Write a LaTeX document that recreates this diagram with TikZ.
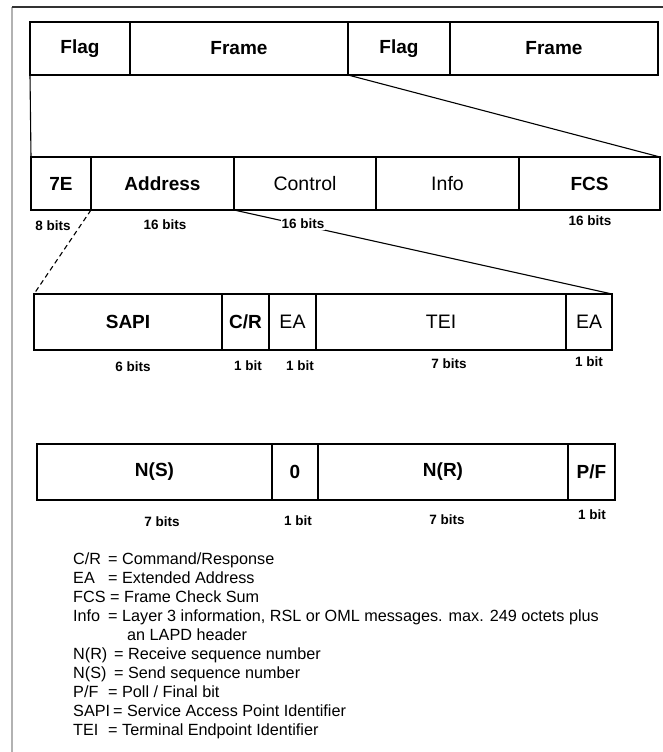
\documentclass[tikz,border=0pt]{standalone}
\usepackage{fontspec}
\setmainfont{Liberation Sans}
\newcommand\fieldbox[7][]{%
  \node[fld,#1,minimum width=\dimexpr #4pt-#3pt\relax,minimum height=\dimexpr #6pt-#5pt\relax] (#2) at (#3,#5) {#7};}
\tikzset{
  fld/.style={draw, line width=1.15pt, anchor=north west, inner sep=0pt, outer sep=0pt,
    font=\fontsize{19}{21}\selectfont\bfseries},
  thin/.style={font=\fontsize{19.5}{21}\selectfont},
  bitlbl/.style={font=\fontsize{13.5}{15}\selectfont\bfseries, inner sep=1pt},
  leg/.style={anchor=base west, inner sep=0pt, font=\fontsize{16.2}{18}\selectfont},
  conn/.style={line width=1.1pt},
}
\begin{document}
\begin{tikzpicture}[x=1pt,y=-1pt]
\useasboundingbox (0,0) rectangle (663,752);
% outer frame
\coordinate (fa) at (12,752);
\coordinate (fb) at (12,7);
\coordinate (fc) at (663,7);
\draw[gray!60, line width=1.3pt] (fa) -- (fb);
\draw[black!80, line width=1.1pt] (fb) -- (fc);
% row 1
\fieldbox{flagA}{30}{130}{22}{75}{Flag}
\fieldbox{frameA}{130}{348}{22}{75}{Frame}
\fieldbox{flagB}{348}{450}{22}{75}{Flag}
\fieldbox{frameB}{450}{658}{22}{75}{Frame}
% row 3
\fieldbox{f7E}{31}{91}{157}{210}{7E}
\fieldbox{addr}{91}{234}{157}{210}{Address}
\fieldbox[thin]{ctrl}{234}{376}{157}{210}{Control}
\fieldbox[thin]{info}{376}{519}{157}{210}{Info}
\fieldbox{fcs}{519}{660}{157}{210}{FCS}
% blank zone left side
\draw[conn] (flagA.south west) -- (f7E.north west);
% expansion lines
\draw[conn] (flagB.south west) -- (fcs.north east);
\node[bitlbl] (b8) at (53,226) {8 bits};
\node[bitlbl] (b16a) at (165,225) {16 bits};
\node[bitlbl] (b16c) at (590,221) {16 bits};
% row 4
\fieldbox{sapi}{34}{222}{294}{350}{SAPI}
\fieldbox{cr}{222}{269}{294}{350}{C/R}
\fieldbox[thin]{eaA}{269}{316}{294}{350}{EA}
\fieldbox[thin]{tei}{316}{566}{294}{350}{TEI}
\fieldbox[thin]{eaB}{566}{612}{294}{350}{EA}
\draw[conn] (ctrl.south west) -- (eaB.north east);
\node[bitlbl, fill=white] (b16b) at (303,224) {16 bits};
\draw[conn, dashed, dash pattern=on 5pt off 3.5pt] (addr.south west) -- (sapi.north west);
\node[bitlbl] (b6) at (133,367) {6 bits};
\node[bitlbl] (b1a) at (248,366) {1 bit};
\node[bitlbl] (b1b) at (300,366) {1 bit};
\node[bitlbl] (b7a) at (449,364) {7 bits};
\node[bitlbl] (b1c) at (589,362) {1 bit};
% row 5
\fieldbox{ns}{37}{272}{444}{500}{N(S)}
\fieldbox{zero}{272}{318}{444}{500}{0}
\fieldbox{nr}{318}{568}{444}{500}{N(R)}
\fieldbox{pf}{568}{615}{444}{500}{P/F}
\node[bitlbl] (b7b) at (162,522) {7 bits};
\node[bitlbl] (b1d) at (298,521) {1 bit};
\node[bitlbl] (b7c) at (447,520) {7 bits};
\node[bitlbl] (b1e) at (592,515) {1 bit};
% legend
\node[leg] (l1a) at (73,564) {C/R};  \node[leg] (l1b) at (108,564) {= Command/Response};
\node[leg] (l2a) at (73,583) {EA};   \node[leg] (l2b) at (108,583) {= Extended Address};
\node[leg] (l3a) at (73,602) {FCS};  \node[leg] (l3b) at (110,602) {= Frame Check Sum};
\node[leg] (l4a) at (73,621) {Info}; \node[leg] (l4b) at (108,621) {= Layer 3 information, RSL or OML messages. max. 249 octets plus};
\node[leg] (l5b) at (127,640) {an LAPD header};
\node[leg] (l6a) at (73,659) {N(R)}; \node[leg] (l6b) at (114,659) {= Receive sequence number};
\node[leg] (l7a) at (73,678) {N(S)}; \node[leg] (l7b) at (114,678) {= Send sequence number};
\node[leg] (l8a) at (73,697) {P/F};  \node[leg] (l8b) at (108,697) {= Poll / Final bit};
\node[leg] (l9a) at (73,716) {SAPI}; \node[leg] (l9b) at (113,716) {= Service Access Point Identifier};
\node[leg] (l10a) at (73,735) {TEI}; \node[leg] (l10b) at (108,735) {= Terminal Endpoint Identifier};
\end{tikzpicture}
\end{document}
